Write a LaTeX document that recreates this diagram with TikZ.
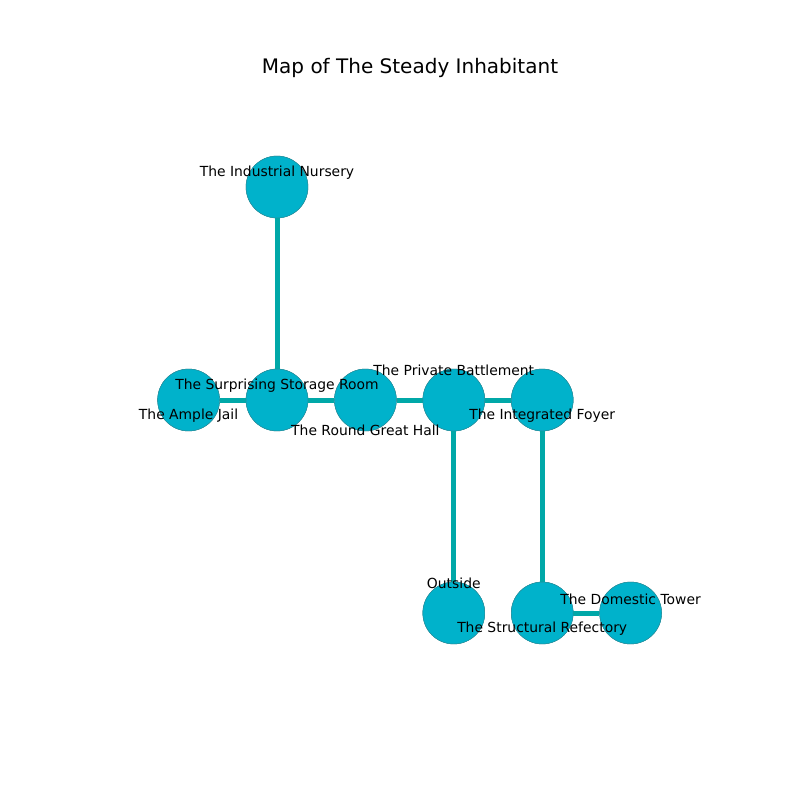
\documentclass[tikz,border=0pt]{standalone}
\usepackage{fontspec}
\setmainfont{DejaVu Sans}
\usetikzlibrary{positioning}
\definecolor{roomfill}{HTML}{00B2CB}
\definecolor{roomedge}{HTML}{2E8A96}
\definecolor{passage}{HTML}{00A8A8}

\begin{document}
\begin{tikzpicture}[x=0.72pt, y=0.72pt, node distance=63.65pt and 63.65pt, on grid,
    % Define node styles for rooms, their names and the passages.
    room/.style={
      circle, minimum size=44.6pt, inner sep=0pt,
      fill=roomfill, draw=roomedge, line width=0.3pt
    },
    roomname/.style={
      inner sep=0pt, font=\fontsize{10}{12}\selectfont
    },
    passage/.style={line width=3.6pt, draw=passage}
]
\useasboundingbox (0,0) rectangle (800,-800);

% Title of the map
\node [font=\fontsize{14.4}{17}\selectfont] (title) at (410,-68) {Map of The Steady Inhabitant};

% Row 1: the nursery at the top
\node [room] (nursery) at (277,-187) {};

% Row 2: the long corridor of rooms
\node [room, below=153.36pt of nursery] (storage) {};
\node [room, left=of storage] (jail) {};
\node [room, right=of storage] (greathall) {};
\node [room, right=of greathall] (battlement) {};
\node [room, right=of battlement] (foyer) {};

% Row 3: the rooms below
\node [room, below=153.36pt of battlement] (outside) {};
\node [room, below=153.36pt of foyer] (refectory) {};
\node [room, right=of refectory] (tower) {};

% Draw the passages between the rooms
\draw [passage] (nursery) -- (storage);
\draw [passage] (jail) -- (storage);
\draw [passage] (storage) -- (greathall);
\draw [passage] (greathall) -- (battlement);
\draw [passage] (battlement) -- (foyer);
\draw [passage] (battlement) -- (outside);
\draw [passage] (foyer) -- (refectory);
\draw [passage] (refectory) -- (tower);

% Redraw the rooms on top of the passages
\foreach \r in {nursery, jail, storage, greathall, battlement, foyer, outside, refectory, tower}
  \node [room] at (\r) {};

% Names of the rooms
\node [roomname, above=10.1pt of nursery] (nurseryname) {The Industrial Nursery};
\node [roomname, below=11.4pt of jail] (jailname) {The Ample Jail};
\node [roomname, above=10.1pt of storage] (storagename) {The Surprising Storage Room};
\node [roomname, below=22.1pt of greathall] (greathallname) {The Round Great Hall};
\node [roomname, above=21.3pt of battlement] (battlementname) {The Private Battlement};
\node [roomname, below=11.4pt of foyer] (foyername) {The Integrated Foyer};
\node [roomname, above=21.3pt of outside] (outsidename) {Outside};
\node [roomname, below=11.4pt of refectory] (refectoryname) {The Structural Refectory};
\node [roomname, above=10.1pt of tower] (towername) {The Domestic Tower};

\end{tikzpicture}
\end{document}
